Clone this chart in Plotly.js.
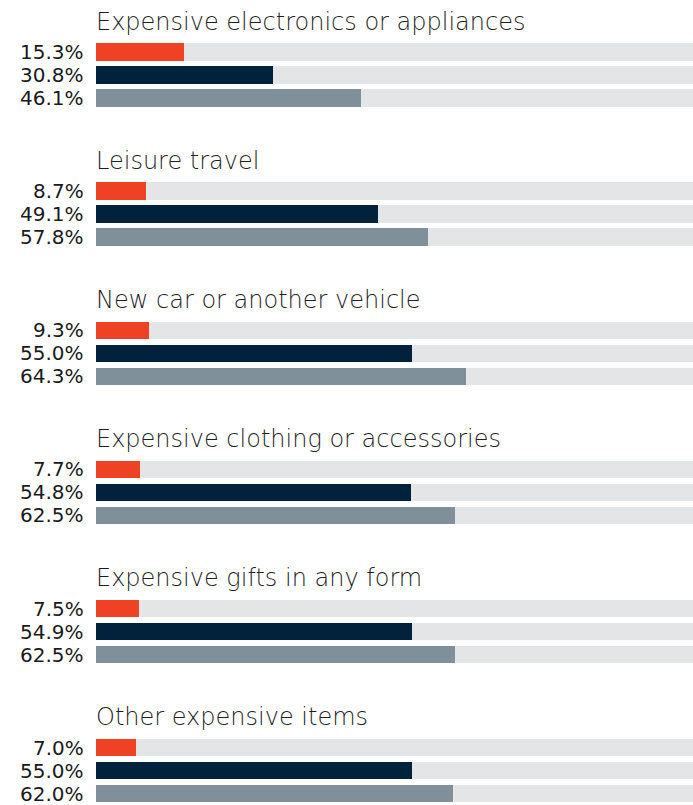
<!DOCTYPE html>
<html>
<head>
<meta charset="utf-8">
<script src="https://cdn.plot.ly/plotly-3.0.1.min.js"></script>
<style>html,body{margin:0;padding:0;background:#fff;}#chart{width:693px;height:805px;}</style>
</head>
<body>
<div id="chart"></div>
<script>
const categories = [
  "Expensive electronics or appliances",
  "Leisure travel",
  "New car or another vehicle",
  "Expensive clothing or accessories",
  "Expensive gifts in any form",
  "Other expensive items"
];
const seriesOrange = [15.3, 8.7, 9.3, 7.7, 7.5, 7.0];
const seriesNavy = [30.8, 49.1, 55.0, 54.8, 54.9, 55.0];
const seriesGray = [46.1, 57.8, 64.3, 62.5, 62.5, 62.0];

const xMax = 103.8;
const groupStep = 6.05;
const yOrange = categories.map((c, g) => g * groupStep);
const yNavy = categories.map((c, g) => g * groupStep + 1);
const yGray = categories.map((c, g) => g * groupStep + 2);
const allY = [].concat(yOrange, yNavy, yGray);
const fmt = v => v.toFixed(1) + "%";

const barW = 0.76;
const traces = [
  {type: "bar", orientation: "h", x: allY.map(() => xMax), y: allY, width: barW,
   marker: {color: "#E4E5E7"}, hoverinfo: "skip", showlegend: false},
  {type: "bar", orientation: "h", x: seriesOrange, y: yOrange, width: barW,
   marker: {color: "#EF4123"}, showlegend: false},
  {type: "bar", orientation: "h", x: seriesNavy, y: yNavy, width: barW,
   marker: {color: "#01223D"}, showlegend: false},
  {type: "bar", orientation: "h", x: seriesGray, y: yGray, width: barW,
   marker: {color: "#7F909B"}, showlegend: false}
];

const labelFont = {family: "'DejaVu Sans', sans-serif", size: 20, color: "#1a1a1a"};
const annotations = [];
categories.forEach((c, g) => {
  annotations.push({
    text: c, x: 0, y: g * groupStep - 1.32, xref: "x", yref: "y",
    xanchor: "left", yanchor: "middle", showarrow: false, xshift: -2,
    font: {family: "'DejaVu Sans', sans-serif", size: 24, color: "#1f1f1f", weight: 200}
  });
  [[yOrange[g], seriesOrange[g]], [yNavy[g], seriesNavy[g]], [yGray[g], seriesGray[g]]].forEach(([y, v]) => {
    annotations.push({
      text: fmt(v), x: 0, y: y, xref: "x", yref: "y",
      xanchor: "right", yanchor: "middle", showarrow: false, xshift: -10,
      font: labelFont
    });
  });
});

const pitch = 23;
const yTop = -52 / pitch;
const yBottom = yTop + 805 / pitch;

const layout = {
  width: 693, height: 805,
  margin: {l: 96, r: 0, t: 0, b: 0, pad: 0},
  paper_bgcolor: "#fff", plot_bgcolor: "#fff",
  barmode: "overlay",
  bargap: 0,
  xaxis: {range: [0, xMax], visible: false, fixedrange: true},
  yaxis: {range: [yBottom, yTop], visible: false, fixedrange: true},
  annotations: annotations
};

Plotly.newPlot("chart", traces, layout, {displayModeBar: false, staticPlot: true});
</script>
</body>
</html>
